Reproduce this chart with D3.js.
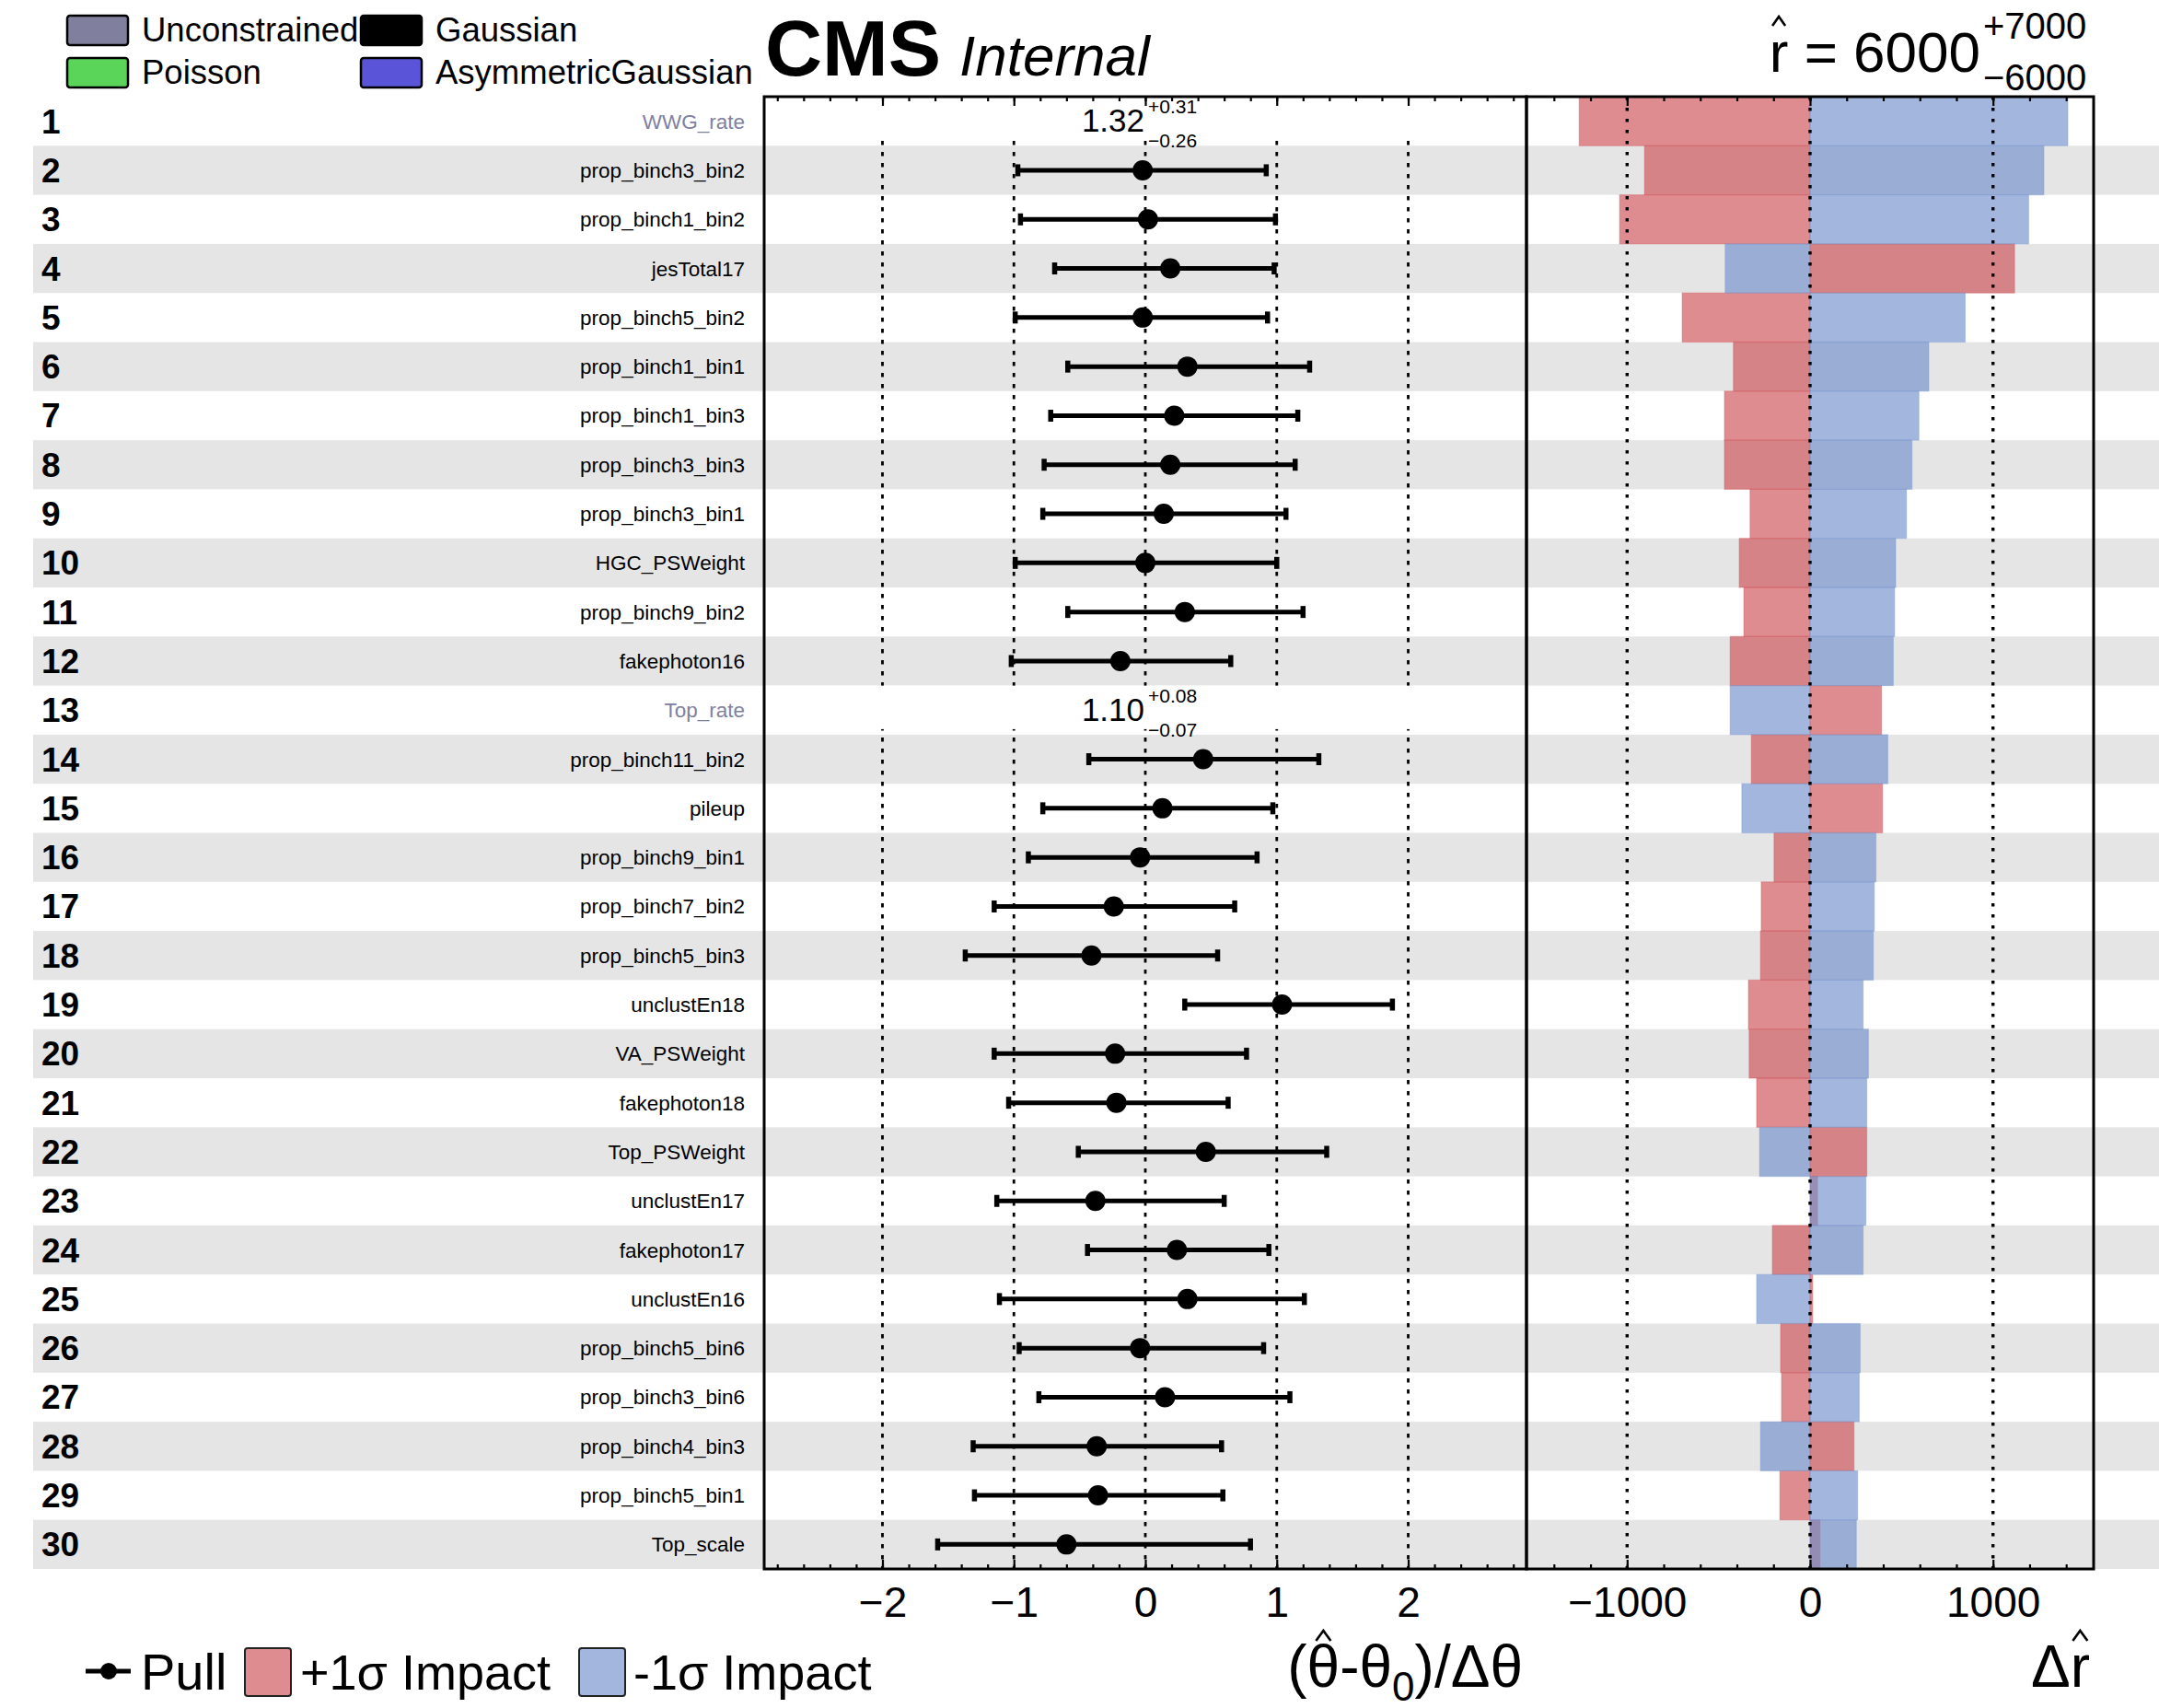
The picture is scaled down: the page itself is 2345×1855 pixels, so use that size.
<!DOCTYPE html>
<html>
<head>
<meta charset="utf-8">
<script src="https://cdn.jsdelivr.net/npm/d3@7"></script>
<style>
body { margin: 0; background: #fff; }
text { font-family: "Liberation Sans", Arial, Helvetica, sans-serif; }
</style>
</head>
<body>
<script>
// nuisance parameters, ranked by impact (top to bottom)
var params = ["WWG_rate", "prop_binch3_bin2", "prop_binch1_bin2", "jesTotal17", "prop_binch5_bin2",
  "prop_binch1_bin1", "prop_binch1_bin3", "prop_binch3_bin3", "prop_binch3_bin1", "HGC_PSWeight",
  "prop_binch9_bin2", "fakephoton16", "Top_rate", "prop_binch11_bin2", "pileup",
  "prop_binch9_bin1", "prop_binch7_bin2", "prop_binch5_bin3", "unclustEn18", "VA_PSWeight",
  "fakephoton18", "Top_PSWeight", "unclustEn17", "fakephoton17", "unclustEn16",
  "prop_binch5_bin6", "prop_binch3_bin6", "prop_binch4_bin3", "prop_binch5_bin1", "Top_scale"];

// unconstrained rate params are printed as text instead of a pull
var rateRows = [0, 12];
var rateVals = ["1.32", "1.10"];
var rateUp = ["+0.31", "+0.08"];
var rateDn = ["\u22120.26", "\u22120.07"];

// pulls (theta-hat - theta0)/dtheta with the post-fit band
var pullVal = [null, -0.02, 0.02, 0.19, -0.02, 0.32, 0.22, 0.19, 0.14, 0.00,
  0.30, -0.19, null, 0.44, 0.13, -0.04, -0.24, -0.41, 1.04, -0.23,
  -0.22, 0.46, -0.38, 0.24, 0.32, -0.04, 0.15, -0.37, -0.36, -0.60];
var pullLo = [null, -0.97, -0.95, -0.69, -0.99, -0.59, -0.72, -0.77, -0.78, -0.99,
  -0.59, -1.02, null, -0.43, -0.78, -0.89, -1.15, -1.37, 0.30, -1.15,
  -1.04, -0.51, -1.13, -0.44, -1.11, -0.96, -0.81, -1.31, -1.30, -1.58];
var pullHi = [null, 0.92, 0.99, 0.98, 0.93, 1.25, 1.16, 1.14, 1.07, 1.00,
  1.20, 0.65, null, 1.32, 0.97, 0.85, 0.68, 0.55, 1.88, 0.77,
  0.63, 1.38, 0.60, 0.94, 1.21, 0.90, 1.10, 0.58, 0.59, 0.80];

// impacts on r-hat for +1 sigma and -1 sigma shifts
var impactUp = [-1262, -905, -1041, 1118, -699, -419, -468, -468, -328, -387,
  -362, -437, 391, -321, 396, -197, -267, -271, -337, -333,
  -292, 310, 41, -206, 14, -161, -156, 240, -165, 54];
var impactDown = [1409, 1278, 1195, -464, 848, 649, 595, 557, 527, 468,
  462, 455, -437, 425, -373, 360, 351, 346, 290, 319,
  310, -276, 305, 290, -292, 274, 269, -271, 260, 253];

var pullTicks = [-2, -1, 0, 1, 2];
var pullMinor = d3.range(-28, 29, 2).map(function(d) { return d / 10; });
var impactTicks = [-1000, 0, 1000];
var impactMinor = d3.range(-1400, 1401, 200);

var legendTop = [["Unconstrained", "#80809e"], ["Gaussian", "#000000"],
  ["Poisson", "#5ad55a"], ["AsymmetricGaussian", "#5a55d8"]];

var redCol = "rgb(205,79,85)", blueCol = "rgb(114,145,205)", alpha = 0.65;

var W = 2345, H = 1855;
var top_ = 105, bottom = 1704;

var svg = d3.select("body").append("svg")
    .attr("width", W)
    .attr("height", H);

svg.append("rect").attr("width", W).attr("height", H).attr("fill", "#fff");

var y = d3.scaleBand().domain(d3.range(params.length)).range([top_, bottom]);
var xPull = d3.scaleLinear().domain([-2.9, 2.9]).range([830, 1658]);
var xImp = d3.scaleLinear().domain([-1550, 1550]).range([1658, 2274]);

// draws a hat over character idx of a text node
function hat(textSel, idx, w, h, lift) {
  var e = textSel.node().getExtentOfChar(idx);
  var cx = e.x + e.width / 2, ty = e.y + lift;
  svg.append("path")
    .attr("d", "M" + (cx - w) + "," + ty + "L" + cx + "," + (ty - h) + "L" + (cx + w) + "," + ty)
    .attr("fill", "none")
    .attr("stroke", "#000")
    .attr("stroke-width", 2.6);
}

// alternate row stripes
svg.append("g").selectAll("rect")
  .data(d3.range(params.length).filter(function(i) { return i % 2 == 1; }))
  .enter().append("rect")
    .attr("x", 36)
    .attr("y", function(i) { return y(i); })
    .attr("width", W - 36)
    .attr("height", y.bandwidth())
    .attr("fill", "#e5e5e5");

// row numbers
svg.append("g").selectAll("text")
  .data(params)
  .enter().append("text")
    .attr("x", 45)
    .attr("y", function(d, i) { return y(i) + y.bandwidth() / 2 + 13; })
    .attr("font-size", 37)
    .attr("font-weight", "bold")
    .text(function(d, i) { return i + 1; });

// parameter names
svg.append("g").selectAll("text")
  .data(params)
  .enter().append("text")
    .attr("x", 809)
    .attr("y", function(d, i) { return y(i) + y.bandwidth() / 2 + 8; })
    .attr("text-anchor", "end")
    .attr("font-size", 22.5)
    .attr("fill", function(d, i) { return rateRows.indexOf(i) >= 0 ? "#8080a0" : "#000"; })
    .text(function(d) { return d; });

// pull panel grid
svg.append("g").selectAll("line")
  .data(pullTicks)
  .enter().append("line")
    .attr("x1", function(d) { return xPull(d); })
    .attr("x2", function(d) { return xPull(d); })
    .attr("y1", top_)
    .attr("y2", bottom)
    .attr("stroke", "#000")
    .attr("stroke-width", 2.8)
    .attr("stroke-dasharray", "4.5 7.5");

// white boxes behind the rate values
svg.append("g").selectAll("rect")
  .data(rateRows)
  .enter().append("rect")
    .attr("x", xPull.range()[0])
    .attr("y", function(i) { return y(i); })
    .attr("width", xPull.range()[1] - xPull.range()[0])
    .attr("height", y.bandwidth() - 6)
    .attr("fill", "#fff");

// rate values
rateRows.forEach(function(r, k) {
  var x0 = xPull(0), t = y(r);
  svg.append("text").attr("x", x0 - 1).attr("y", t + 38)
    .attr("text-anchor", "end").attr("font-size", 35).text(rateVals[k]);
  svg.append("text").attr("x", x0 + 3).attr("y", t + 18)
    .attr("font-size", 21).text(rateUp[k]);
  svg.append("text").attr("x", x0 + 3).attr("y", t + 55)
    .attr("font-size", 21).text(rateDn[k]);
});

// pulls
var pulls = d3.range(params.length).filter(function(i) { return pullVal[i] !== null; });
var pg = svg.append("g");
pg.selectAll("line.bar")
  .data(pulls)
  .enter().append("line")
    .attr("class", "bar")
    .attr("x1", function(i) { return xPull(pullLo[i]); })
    .attr("x2", function(i) { return xPull(pullHi[i]); })
    .attr("y1", function(i) { return y(i) + y.bandwidth() / 2; })
    .attr("y2", function(i) { return y(i) + y.bandwidth() / 2; })
    .attr("stroke", "#000")
    .attr("stroke-width", 5);
[pullLo, pullHi].forEach(function(arr) {
  pg.selectAll(null)
    .data(pulls)
    .enter().append("line")
      .attr("x1", function(i) { return xPull(arr[i]); })
      .attr("x2", function(i) { return xPull(arr[i]); })
      .attr("y1", function(i) { return y(i) + y.bandwidth() / 2 - 6.5; })
      .attr("y2", function(i) { return y(i) + y.bandwidth() / 2 + 6.5; })
      .attr("stroke", "#000")
      .attr("stroke-width", 5.5);
});
pg.selectAll("circle")
  .data(pulls)
  .enter().append("circle")
    .attr("cx", function(i) { return xPull(pullVal[i]); })
    .attr("cy", function(i) { return y(i) + y.bandwidth() / 2; })
    .attr("r", 11)
    .attr("fill", "#000");

// impact bars (+1 sigma first, -1 sigma on top)
function bars(vals, col) {
  svg.append("g").selectAll("rect")
    .data(vals)
    .enter().append("rect")
      .attr("x", function(d) { return xImp(Math.min(0, d)); })
      .attr("y", function(d, i) { return y(i); })
      .attr("width", function(d) { return Math.abs(xImp(d) - xImp(0)); })
      .attr("height", y.bandwidth())
      .attr("fill", col)
      .attr("fill-opacity", alpha)
      .attr("stroke", col)
      .attr("stroke-opacity", 0.35)
      .attr("stroke-width", 1.2);
}
bars(impactUp, redCol);
bars(impactDown, blueCol);

// impact grid
svg.append("g").selectAll("line")
  .data(impactTicks)
  .enter().append("line")
    .attr("x1", function(d) { return xImp(d); })
    .attr("x2", function(d) { return xImp(d); })
    .attr("y1", top_)
    .attr("y2", bottom)
    .attr("stroke", "#000")
    .attr("stroke-width", 3.4)
    .attr("stroke-dasharray", "3.6 8.4");

// axes
function ticks(scale, major, minor, labels) {
  var b = svg.append("g").attr("transform", "translate(0," + bottom + ")")
    .call(d3.axisBottom(scale).tickValues(major).tickSize(-10).tickPadding(19)
      .tickFormat(labels ? d3.format("d") : ""));
  b.select(".domain").remove();
  b.selectAll("line").attr("stroke-width", 2.2);
  b.selectAll("text").attr("font-size", 46).attr("font-family", "Liberation Sans, Arial, sans-serif");
  var bm = svg.append("g").attr("transform", "translate(0," + bottom + ")")
    .call(d3.axisBottom(scale).tickValues(minor).tickSize(-5).tickFormat(""));
  bm.select(".domain").remove();
  bm.selectAll("line").attr("stroke-width", 2.2);
  var t = svg.append("g").attr("transform", "translate(0," + top_ + ")")
    .call(d3.axisTop(scale).tickValues(major).tickSize(-10).tickFormat(""));
  t.select(".domain").remove();
  t.selectAll("line").attr("stroke-width", 2.2);
  var tm = svg.append("g").attr("transform", "translate(0," + top_ + ")")
    .call(d3.axisTop(scale).tickValues(minor).tickSize(-5).tickFormat(""));
  tm.select(".domain").remove();
  tm.selectAll("line").attr("stroke-width", 2.2);
}
ticks(xPull, pullTicks, pullMinor, true);
ticks(xImp, impactTicks, impactMinor, true);

// frames
[xPull, xImp].forEach(function(s) {
  svg.append("rect")
    .attr("x", s.range()[0])
    .attr("y", top_)
    .attr("width", s.range()[1] - s.range()[0])
    .attr("height", bottom - top_)
    .attr("fill", "none")
    .attr("stroke", "#000")
    .attr("stroke-width", 3);
});

// axis titles
var t1 = svg.append("text").attr("x", 1654).attr("y", 1832)
  .attr("text-anchor", "end").attr("font-size", 64);
t1.append("tspan").text("(\u03b8-\u03b8");
t1.append("tspan").attr("dy", 15).attr("font-size", 44).text("0");
t1.append("tspan").attr("dy", -15).text(")/\u0394\u03b8");
hat(t1, 1, 8, 11, 8);
var t2 = svg.append("text").attr("x", 2270).attr("y", 1832)
  .attr("text-anchor", "end").attr("font-size", 64).text("\u0394r");
hat(t2, 1, 8, 11, 8);

// CMS label
svg.append("text").attr("x", 831).attr("y", 82)
  .attr("font-size", 86).attr("font-weight", "bold").text("CMS");
svg.append("text").attr("x", 1042).attr("y", 82)
  .attr("font-size", 62).attr("font-style", "italic").text("Internal");

// r-hat
var t3 = svg.append("text").attr("x", 2151).attr("y", 78)
  .attr("text-anchor", "end").attr("font-size", 62).text("r = 6000");
hat(t3, 0, 7, 10, 6);
svg.append("text").attr("x", 2154).attr("y", 42).attr("font-size", 40).text("+7000");
svg.append("text").attr("x", 2154).attr("y", 98).attr("font-size", 40).text("\u22126000");

// top legend
legendTop.forEach(function(d, i) {
  var lx = i % 2 == 0 ? 73 : 392, ly = i < 2 ? 17 : 63;
  svg.append("rect").attr("x", lx).attr("y", ly).attr("width", 66).attr("height", 32)
    .attr("rx", 3).attr("fill", d[1]).attr("stroke", "#000").attr("stroke-width", 2.5);
  svg.append("text").attr("x", lx + 81).attr("y", ly + 28)
    .attr("font-size", 36.5).text(d[0]);
});

// bottom legend
var ly = 1815;
svg.append("line").attr("x1", 93).attr("x2", 142).attr("y1", ly).attr("y2", ly)
  .attr("stroke", "#000").attr("stroke-width", 5);
svg.append("circle").attr("cx", 118).attr("cy", ly).attr("r", 9).attr("fill", "#000");
svg.append("text").attr("x", 153).attr("y", 1835).attr("font-size", 56).text("Pull");
svg.append("rect").attr("x", 266).attr("y", 1790).attr("width", 50).attr("height", 52)
  .attr("rx", 3).attr("fill", redCol).attr("fill-opacity", alpha)
  .attr("stroke", "#222").attr("stroke-width", 2);
svg.append("text").attr("x", 326).attr("y", 1835).attr("font-size", 54).text("+1\u03c3 Impact");
svg.append("rect").attr("x", 629).attr("y", 1790).attr("width", 50).attr("height", 52)
  .attr("rx", 3).attr("fill", blueCol).attr("fill-opacity", alpha)
  .attr("stroke", "#222").attr("stroke-width", 2);
svg.append("text").attr("x", 688).attr("y", 1835).attr("font-size", 54).text("-1\u03c3 Impact");
</script>
</body>
</html>
